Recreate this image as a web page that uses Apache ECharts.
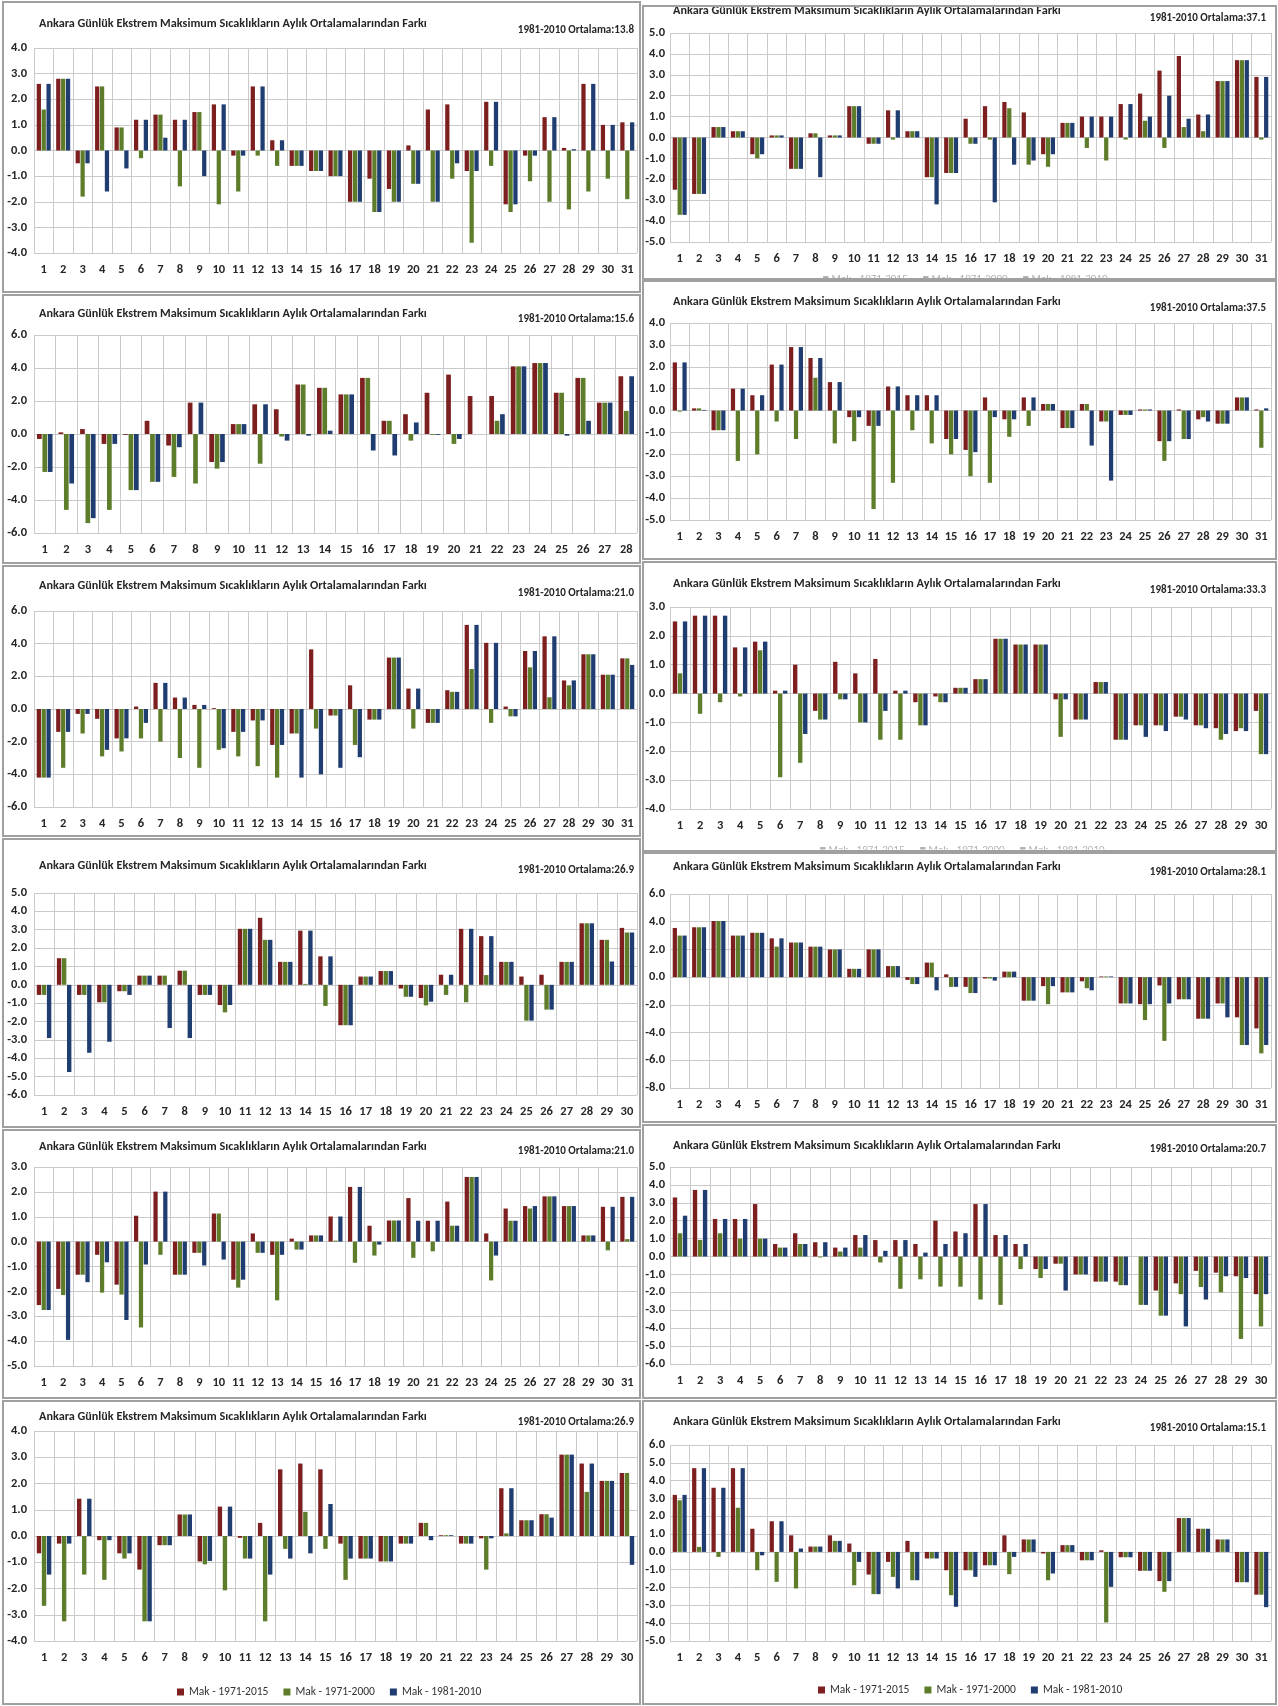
<!DOCTYPE html>
<html><head><meta charset="utf-8">
<script src="https://cdn.jsdelivr.net/npm/echarts@6/dist/echarts.min.js"></script>
<style>html,body{margin:0;padding:0;background:#fff}#chart{width:1278px;height:1706px}</style>
</head><body><div id="chart"></div>
<script>
// ---------------- DATA ----------------
const seriesNames = ['Mak - 1971-2015', 'Mak - 1971-2000', 'Mak - 1981-2010'];
const titleText = 'Ankara Günlük Ekstrem Maksimum Sıcaklıkların Aylık Ortalamalarından Farkı';
const averages = ['13.8', '37.1', '15.6', '37.5', '21.0', '33.3', '26.9', '28.1', '21.0', '20.7', '26.9', '15.1'];
const dayCounts = [31, 31, 28, 31, 31, 30, 30, 31, 31, 30, 30, 31];
const yMin = [-4, -5, -6, -5, -6, -4, -6, -8, -5, -6, -4, -5];
const yMax = [4, 5, 6, 4, 6, 3, 5, 6, 3, 5, 4, 6];
const yStep = [1, 1, 2, 1, 2, 1, 1, 2, 1, 1, 1, 1];
const dayLabels = ['1','2','3','4','5','6','7','8','9','10','11','12','13','14','15','16','17','18','19','20','21','22','23','24','25','26','27','28','29','30','31'];

const p1Red   = [2.6,2.8,-0.5,2.5,0.9,1.2,1.4,1.2,1.5,1.8,-0.2,2.5,0.4,-0.6,-0.8,-1.0,-2.0,-1.1,-1.5,0.2,1.6,1.8,-0.8,1.9,-2.1,-0.2,1.3,0.1,2.6,1.0,1.1];
const p1Green = [1.6,2.8,-1.8,2.5,0.9,-0.3,1.4,-1.4,1.5,-2.1,-1.6,-0.2,-0.6,-0.6,-0.8,-1.0,-2.0,-2.4,-2.0,-1.3,-2.0,-1.1,-3.6,-0.6,-2.4,-1.2,-2.0,-2.3,-1.6,-1.1,-1.9];
const p1Blue  = [2.6,2.8,-0.5,-1.6,-0.7,1.2,0.5,1.2,-1.0,1.8,-0.2,2.5,0.4,-0.6,-0.8,-1.0,-2.0,-2.4,-2.0,-1.3,-2.0,-0.5,-0.8,1.9,-2.1,-0.2,1.3,0.05,2.6,1.0,1.1];

const p2Red   = [-2.5,-2.7,0.5,0.3,-0.8,0.1,-1.5,0.2,0.1,1.5,-0.3,1.3,0.3,-1.9,-1.7,0.9,1.5,1.7,1.2,-0.8,0.7,1.0,1.0,1.6,2.1,3.2,3.9,1.1,2.7,3.7,2.9];
const p2Green = [-3.7,-2.7,0.5,0.3,-1.0,0.1,-1.5,0.2,0.1,1.5,-0.3,-0.1,0.3,-1.9,-1.7,-0.3,-0.1,1.4,-1.3,-1.4,0.7,-0.5,-1.1,-0.1,0.8,-0.5,0.5,0.3,2.7,3.7,-0.1];
const p2Blue  = [-3.7,-2.7,0.5,0.3,-0.8,0.1,-1.5,-1.9,0.1,1.5,-0.3,1.3,0.3,-3.2,-1.7,-0.3,-3.1,-1.3,-1.1,-0.8,0.7,1.0,1.0,1.6,1.0,2.0,0.9,1.1,2.7,3.7,2.9];

const p3Red   = [-0.3,0.1,0.3,-0.6,-0.05,0.8,-0.7,1.9,-1.7,0.6,1.8,1.5,3.0,2.8,2.4,3.4,0.8,1.2,2.5,3.6,2.3,2.3,4.1,4.3,2.5,3.4,1.9,3.5];
const p3Green = [-2.3,-4.6,-5.4,-4.6,-3.4,-2.9,-2.6,-3.0,-2.1,0.6,-1.8,-0.15,3.0,2.8,2.4,3.4,0.8,-0.4,-0.05,-0.6,0,0.8,4.1,4.3,2.5,3.4,1.9,1.4];
const p3Blue  = [-2.3,-3.0,-5.1,-0.6,-3.4,-2.9,-0.8,1.9,-1.7,0.6,1.8,-0.4,-0.1,0.2,2.4,-1.0,-1.3,0.7,-0.05,-0.3,0,1.2,4.1,4.3,-0.1,0.8,1.9,3.5];

const p4Red   = [2.2,0.1,-0.9,1.0,0.7,2.1,2.9,2.4,1.3,-0.3,-0.7,1.1,0.7,0.7,-1.3,-1.8,0.6,-0.4,0.6,0.3,-0.8,0.3,-0.5,-0.2,0.05,-1.4,0.05,-0.4,-0.6,0.6,0.05];
const p4Green = [-0.05,0.1,-0.9,-2.3,-2.0,-0.5,-1.3,1.5,-1.5,-1.4,-4.5,-3.3,-0.9,-1.5,-2.0,-3.0,-3.3,-1.2,-0.7,0.3,-0.8,0.3,-0.5,-0.2,0.05,-2.3,-1.3,-0.3,-0.6,0.6,-1.7];
const p4Blue  = [2.2,0.03,-0.9,1.0,0.7,2.1,2.9,2.4,1.3,-0.3,-0.7,1.1,0.7,0.7,-1.3,-1.9,-0.3,-0.4,0.6,0.3,-0.8,-1.6,-3.2,-0.2,0.05,-1.4,-1.3,-0.5,-0.6,0.6,0.1];

const p5Red   = [-4.2,-1.4,-0.3,-0.6,-1.8,0.15,1.6,0.7,0.25,0.05,-1.4,-0.7,-2.2,-1.5,3.65,-0.4,1.45,-0.65,3.15,1.25,-0.85,1.15,5.15,4.05,0.15,3.55,4.45,1.75,3.35,2.1,3.1];
const p5Green = [-4.2,-3.6,-1.5,-2.9,-2.6,-1.8,-2.0,-3.0,-3.6,-2.5,-2.9,-3.5,-4.2,-1.5,-1.2,-0.4,-2.2,-0.65,3.15,-1.2,-0.85,1.05,2.45,-0.85,-0.45,2.55,0.72,1.45,3.35,2.1,3.1];
const p5Blue  = [-4.2,-1.4,-0.3,-2.5,-1.8,-0.85,1.6,0.7,0.25,-2.4,-1.4,-0.7,-2.2,-4.2,-4.0,-3.6,-2.95,-0.65,3.15,1.25,-0.85,1.05,5.15,4.05,-0.45,3.55,4.45,1.75,3.35,2.1,2.7];

const p6Red   = [2.5,2.7,2.7,1.6,1.8,0.1,1.0,-0.6,1.1,0.7,1.2,0.1,-0.3,-0.1,0.2,0.5,1.9,1.7,1.7,-0.2,-0.9,0.4,-1.6,-1.1,-1.1,-0.8,-1.1,-1.2,-1.3,-0.6];
const p6Green = [0.7,-0.7,-0.3,-0.1,1.5,-2.9,-2.4,-0.9,-0.2,-1.0,-1.6,-1.6,-1.1,-0.3,0.2,0.5,1.9,1.7,1.7,-1.5,-0.9,0.4,-1.6,-1.1,-1.1,-0.8,-1.1,-1.6,-1.2,-2.1];
const p6Blue  = [2.5,2.7,2.7,1.6,1.8,0.1,-1.4,-0.9,-0.2,-1.0,-0.6,0.1,-1.1,-0.3,0.2,0.5,1.9,1.7,1.7,-0.2,-0.9,0.4,-1.6,-1.5,-1.3,-0.9,-1.2,-1.4,-1.3,-2.1];

const p7Red   = [-0.55,1.45,-0.55,-0.95,-0.35,0.5,0.5,0.77,-0.55,-1.1,3.05,3.65,1.25,2.95,1.55,-2.2,0.45,0.75,-0.2,-0.72,0.55,3.05,2.65,1.25,0.45,0.55,1.25,3.35,2.45,3.1];
const p7Green = [-0.55,1.45,-0.55,-0.95,-0.35,0.5,0.5,0.77,-0.55,-1.5,3.05,2.45,1.25,0.05,-1.15,-2.2,0.45,0.75,-0.65,-1.12,-0.55,-0.95,0.53,1.25,-1.95,-1.35,1.25,3.35,2.45,2.85];
const p7Blue  = [-2.9,-4.75,-3.7,-3.1,-0.55,0.5,-2.35,-2.9,-0.55,-1.1,3.05,2.45,1.25,2.95,1.55,-2.2,0.45,0.75,-0.65,-0.92,0.55,3.05,2.65,1.25,-1.95,-1.35,1.25,3.35,1.27,2.85];

const p8Red   = [3.55,3.6,4.05,3.0,3.2,2.8,2.5,2.2,2.0,0.6,2.0,0.8,-0.2,1.05,0.2,-0.7,-0.1,0.4,-1.7,-0.65,-1.1,-0.3,0.05,-1.9,-1.95,-0.6,-1.6,-3.0,-1.9,-2.9,-3.7];
const p8Green = [3.0,3.6,4.05,3.0,3.2,2.2,2.5,2.2,2.0,0.6,2.0,0.8,-0.5,1.05,-0.7,-1.15,-0.1,0.4,-1.7,-1.95,-1.1,-0.8,0.05,-1.9,-3.1,-4.6,-1.6,-3.0,-1.9,-4.9,-5.5];
const p8Blue  = [3.0,3.6,4.05,3.0,3.2,2.8,2.5,2.2,2.0,0.6,2.0,0.8,-0.5,-0.95,-0.7,-1.15,-0.25,0.4,-1.7,-0.65,-1.1,-0.95,0.05,-1.9,-1.95,-1.9,-1.6,-3.0,-2.9,-4.9,-4.9];

const p9Red   = [-2.55,-1.9,-1.33,-0.53,-1.73,1.04,2.01,-1.33,-0.45,1.13,-1.53,0.33,-0.53,0.12,0.25,1.01,2.2,0.64,0.85,1.75,0.84,1.61,2.6,0.33,1.33,1.43,1.82,1.43,0.25,1.4,1.8];
const p9Green = [-2.75,-2.15,-1.33,-2.05,-2.13,-3.45,-0.53,-1.33,-0.45,1.13,-1.85,-0.45,-2.36,-0.32,0.25,0.04,-0.85,-0.56,0.85,-0.65,-0.39,0.64,2.6,-1.56,0.84,1.33,1.82,1.43,0.25,-0.35,0.1];
const p9Blue  = [-2.75,-3.95,-1.63,-0.83,-3.15,-0.92,2.01,-1.33,-0.96,-0.72,-1.53,-0.45,-0.53,-0.32,0.25,1.01,2.2,-0.12,0.85,0.84,0.84,0.64,2.6,-0.56,0.84,1.43,1.82,1.43,0.25,1.4,1.8];

const p10Red   = [3.3,3.72,2.1,2.1,2.93,0.7,1.3,0.8,0.5,1.2,0.92,0.92,0.7,2.0,1.4,2.93,1.2,0.7,-0.7,-0.4,-1.0,-1.4,-1.4,0,-1.9,-1.5,-0.8,-0.9,-1.1,-2.1];
const p10Green = [1.3,0.93,1.3,1.0,1.0,0.5,0.7,-0.05,0.28,0.5,-0.33,-1.8,-1.27,-1.68,-1.68,-2.4,-2.7,-0.7,-1.2,-0.4,-1.0,-1.4,-1.6,-2.7,-3.3,-2.1,-1.7,-2.0,-4.6,-3.9];
const p10Blue  = [2.28,3.72,2.1,2.1,1.0,0.5,0.7,0.8,0.5,1.2,0.32,0.92,0.22,0.7,1.3,2.93,1.2,0.7,-0.7,-1.9,-1.0,-1.4,-1.6,-2.7,-3.3,-3.9,-2.4,-1.1,-1.2,-2.1];

const p11Red   = [-0.66,-0.29,1.42,-0.16,-0.66,-1.28,-0.35,0.82,-0.97,1.12,-0.07,0.5,2.54,2.76,2.54,-0.29,-0.86,-0.97,-0.29,0.5,0.03,-0.29,-0.09,1.82,0.6,0.83,3.1,2.76,2.1,2.4];
const p11Green = [-2.66,-3.25,-1.47,-1.67,-0.86,-3.25,-0.35,0.82,-1.08,-2.07,-0.86,-3.25,-0.49,0.92,-0.49,-1.67,-0.86,-0.97,-0.29,0.5,0.03,-0.29,-1.28,0.1,0.6,0.83,3.1,1.68,2.1,2.4];
const p11Blue  = [-1.47,-0.29,1.42,-0.16,-0.66,-3.25,-0.35,0.82,-0.95,1.12,-0.86,-1.47,-0.86,-0.66,1.22,-0.86,-0.86,-0.97,-0.29,-0.16,0.03,-0.29,-0.09,1.82,0.6,0.7,3.1,2.76,2.1,-1.1];

const p12Red   = [3.2,4.7,3.6,4.7,1.3,1.72,0.93,0.3,0.93,0.47,-1.27,-0.56,0.62,-0.37,-1.03,-1.03,-0.75,0.93,0.7,-0.09,0.38,-0.47,0.09,-0.3,-1.06,-1.64,1.9,1.3,0.7,-1.7,-2.4];
const p12Green = [2.9,0.28,-0.28,2.48,-1.03,-1.68,-2.05,0.3,0.62,-1.87,-2.37,-1.4,-1.59,-0.37,-2.43,-1.03,-0.75,-1.25,0.7,-1.59,0.38,-0.47,-3.96,-0.3,-1.06,-2.24,1.9,1.3,0.7,-1.7,-2.4];
const p12Blue  = [3.2,4.7,3.6,4.7,-0.19,1.72,0.19,0.3,0.62,-0.56,-2.37,-2.05,-1.59,-0.37,-3.08,-1.4,-0.75,-0.28,0.7,-1.21,0.38,-0.47,-1.96,-0.3,-1.06,-1.64,1.9,1.3,0.7,-1.7,-3.1];

const redSets   = [p1Red, p2Red, p3Red, p4Red, p5Red, p6Red, p7Red, p8Red, p9Red, p10Red, p11Red, p12Red];
const greenSets = [p1Green, p2Green, p3Green, p4Green, p5Green, p6Green, p7Green, p8Green, p9Green, p10Green, p11Green, p12Green];
const blueSets  = [p1Blue, p2Blue, p3Blue, p4Blue, p5Blue, p6Blue, p7Blue, p8Blue, p9Blue, p10Blue, p11Blue, p12Blue];

// ---------------- LAYOUT / STYLE ----------------
const FONT = "Carlito, Calibri, 'Liberation Sans', sans-serif";
const COLORS = ['#7D1F1F', '#5E7D2A', '#1F3D70'];
const W = 1278;
const plotLeft = [34, 670];
const plotWidth = [603, 601];
const labelMargin = [7, 5];
const gridTop = [48, 33, 335, 323, 611, 607, 893, 894, 1167, 1167, 1431, 1445];
const gridBot = [253, 242, 533, 520, 807, 809, 1095, 1088, 1366, 1364, 1641, 1641];
const titleY = [25, 12, 315, 303, 587, 585, 867, 868, 1148, 1147, 1418, 1423];
const subY = [31, 19, 320, 309, 594, 591, 871, 873, 1152, 1150, 1423, 1429];
const titleX = [39, 673];
const subRightEnd = [634, 1266];
const rectsLeft = [[2, 292], [295, 563], [566, 836], [839, 1127], [1130, 1398], [1401, 1704]];
const rectsRight = [[6, 279], [281, 559], [562, 851], [853, 1122], [1125, 1398], [1401, 1704]];
const colX = [[3, 640], [643, 1276]];

const grids = [], xAxes = [], yAxes = [], series = [], titles = [];
for (let i = 0; i < 12; i++) {
  const col = i % 2;
  grids.push({ left: plotLeft[col], top: gridTop[i], width: plotWidth[col], height: gridBot[i] - gridTop[i], containLabel: false });
  xAxes.push({
    type: 'category', gridIndex: i, data: dayLabels.slice(0, dayCounts[i]),
    axisLine: { show: false }, axisTick: { show: false },
    splitLine: { show: true, interval: 0, lineStyle: { color: '#cacaca', width: 1 } },
    axisLabel: { interval: 0, margin: 10, fontSize: 12.5, fontWeight: 'bold', color: '#262626', fontFamily: FONT }
  });
  yAxes.push({
    type: 'value', gridIndex: i, min: yMin[i], max: yMax[i], interval: yStep[i],
    axisLine: { show: false }, axisTick: { show: false },
    splitLine: { show: true, lineStyle: { color: '#cacaca', width: 1 } },
    axisLabel: { formatter: v => v.toFixed(1), margin: labelMargin[col], fontSize: 12.5, fontWeight: 'bold', color: '#262626', fontFamily: FONT }
  });
  const sets = [redSets[i], greenSets[i], blueSets[i]];
  for (let k = 0; k < 3; k++) {
    series.push({
      name: seriesNames[k], type: 'bar', xAxisIndex: i, yAxisIndex: i,
      data: sets[k], itemStyle: { color: COLORS[k] },
      barGap: '15%', barCategoryGap: '28%', animation: false, z: 2
    });
  }
  titles.push({
    text: titleText, left: titleX[col], top: titleY[i] - 7, padding: 0, z: 6,
    textStyle: { fontFamily: FONT, fontSize: 12.2, fontWeight: 'bold', color: '#262626' }
  });
  titles.push({
    text: '1981-2010 Ortalama:' + averages[i], right: W - subRightEnd[col], top: subY[i] - 6, padding: 0, z: 6,
    textStyle: { fontFamily: FONT, fontSize: 11, fontWeight: 'bold', color: '#262626' }
  });
}

const graphics = [];
// legends of two upper panels that are cut off by the next panel
const remnant = '\u25A0 Mak - 1971-2015      \u25A0 Mak - 1971-2000      \u25A0 Mak - 1981-2010';
[[965, 279.5], [962, 850.5]].forEach(p => {
  graphics.push({ type: 'text', x: p[0], y: p[1], z: 1,
    style: { text: remnant, fill: '#b0b0b0', font: '11px ' + FONT, align: 'center', verticalAlign: 'middle' } });
});
graphics.push({ type: 'rect', z: 3, shape: { x: 780, y: 278, width: 380, height: 14 }, style: { fill: '#fff' } });
graphics.push({ type: 'rect', z: 3, shape: { x: 780, y: 849.5, width: 380, height: 12 }, style: { fill: '#fff' } });
// cut-off top of the right top panel title
graphics.push({ type: 'rect', z: 8, shape: { x: 642, y: 0, width: 636, height: 6 }, style: { fill: '#fff' } });
// panel borders
rectsLeft.forEach(r => graphics.push({ type: 'rect', z: 10,
  shape: { x: colX[0][0], y: r[0], width: colX[0][1] - colX[0][0], height: r[1] - r[0] },
  style: { fill: 'none', stroke: '#a0a0a0', lineWidth: 2 } }));
rectsRight.forEach(r => graphics.push({ type: 'rect', z: 10,
  shape: { x: colX[1][0], y: r[0], width: colX[1][1] - colX[1][0], height: r[1] - r[0] },
  style: { fill: 'none', stroke: '#a0a0a0', lineWidth: 2 } }));

const legendBase = {
  data: seriesNames, icon: 'rect', itemWidth: 7, itemHeight: 7, itemGap: 15,
  textStyle: { fontFamily: FONT, fontSize: 11.5, color: '#333' }, selectedMode: false
};

const chart = echarts.init(document.getElementById('chart'), null, { renderer: 'canvas' });
chart.setOption({
  backgroundColor: '#ffffff',
  animation: false,
  title: titles,
  legend: [
    Object.assign({}, legendBase, { left: 172, top: 1681 }),
    Object.assign({}, legendBase, { left: 813, top: 1679 })
  ],
  grid: grids,
  xAxis: xAxes,
  yAxis: yAxes,
  series: series,
  graphic: graphics
});
</script>
</body></html>
